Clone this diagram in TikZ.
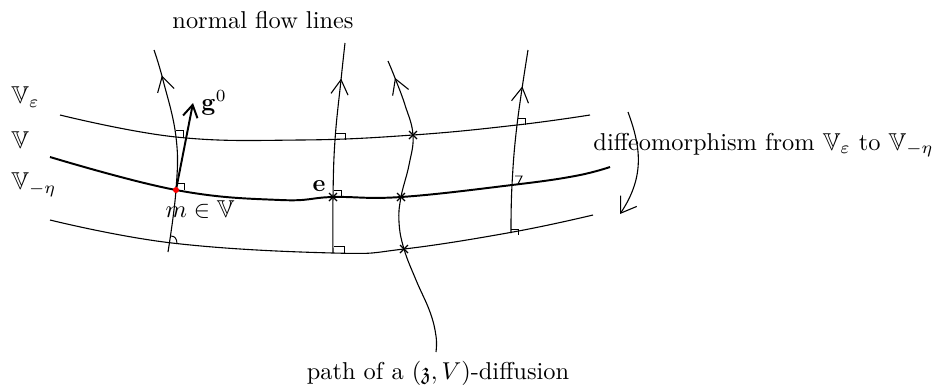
\documentclass[tikz,border=0pt]{standalone}
\usepackage{amsmath,amssymb}
\usetikzlibrary{arrows.meta,decorations.markings,calc}
\tikzset{
  thinline/.style={line width=0.45pt},
  leaf/.style={line width=0.8pt},
  flowarrow/.style={postaction={decorate},decoration={markings,
     mark=at position #1 with {\arrow{Straight Barb[length=6pt,width=7pt,line width=0.45pt]}}}},
  rmark/.style={line width=0.4pt},
  xmark/.style={line width=0.5pt},
  lbl/.style={inner sep=0pt}
}
\newcommand{\crossmark}[1]{\draw[xmark] ($(#1)+(-4,-4)$) -- ($(#1)+(4,4)$) ($(#1)+(-4,4)$) -- ($(#1)+(4,-4)$);}
\begin{document}
\begin{tikzpicture}[x=0.41pt,y=-0.41pt]
\useasboundingbox (0,0) rectangle (944,388);
% labels
\node[lbl] (title) at (263,20) {normal flow lines};
\node[lbl,anchor=west] (Veps) at (11,97) {$\mathbb{V}_\varepsilon$};
\node[lbl,anchor=west] (V) at (11,140) {$\mathbb{V}$};
\node[lbl,anchor=west] (Veta) at (11,185) {$\mathbb{V}_{-\eta}$};
\node[lbl,anchor=west] (g0) at (201,103) {$\mathbf{g}^0$};
\node[lbl] (mlab) at (200,210) {$m\in\mathbb{V}$};
\node[lbl] (elab) at (319,186) {$\mathbf{e}$};
\node[lbl,anchor=west] (diffeo) at (593,145) {diffeomorphism from $\mathbb{V}_\varepsilon$ to $\mathbb{V}_{-\eta}$};
\node[lbl] (pathlab) at (438,373) {path of a $(\mathfrak{z},V)$-diffusion};
% key points
\coordinate (m) at (176,190);
\coordinate (gtip) at (193,103);
\coordinate (e) at (333,197);
\coordinate (d1) at (413,135);
\coordinate (d2) at (401,197);
\coordinate (d3) at (404,249);
% level curves
\draw[thinline] plot[smooth,tension=0.7] coordinates {(60,115) (176,137) (300,140) (413,135) (517,125) (590,115)};
\draw[leaf] plot[smooth,tension=0.7] coordinates {(50,157) (176,190) (280,200) (333,197) (401,197) (512,185) (575,176) (610,167)};
\draw[thinline] plot[smooth,tension=0.7] coordinates {(50,220) (172,243) (333,253) (404,249) (513,232) (593,215)};
% normal flow lines
\draw[thinline,flowarrow=0.87] plot[smooth,tension=0.7] coordinates {(168,252) (176,190) (176,137) (163,80) (154,50)};
\draw[thinline,flowarrow=0.83] plot[smooth,tension=0.7] coordinates {(333,253) (333,197) (335,140) (341,80) (345,43)};
\draw[thinline,flowarrow=0.8] plot[smooth,tension=0.7] coordinates {(511,233) (512,185) (517,125) (528,50)};
% diffusion path
\draw[thinline,flowarrow=0.94] plot[smooth,tension=0.7] coordinates {(436,352) (436,336) (430,312) (416,280) (404,249) (399,222) (401,197) (409,165) (413,135) (405,105) (395,78) (388,61)};
% g0 arrow
\draw[leaf,-{Straight Barb[length=5pt,width=6pt]}] (m) -- (gtip);
% right-angle marks
\draw[rmark] (176,130) -- (183,130) -- (183,137);
\draw[rmark] (177,183) -- (184,183) -- (184,190);
\draw[rmark] (171,236) .. controls (175,236) and (177,239) .. (177,244);
\draw[rmark] (336,133) -- (345,133) -- (345,140);
\draw[rmark] (334,190) -- (341,190) -- (341,197);
\draw[rmark] (334,246) -- (344,246) -- (344,253);
\draw[rmark] (518,118) -- (525,118) -- (525,125);
\draw[rmark] (515,176) -- (522,176) -- (518,184);
\draw[rmark] (511,229) -- (518,229) -- (518,235);
% cross marks
\crossmark{e}
\crossmark{d1}
\crossmark{d2}
\crossmark{d3}
% red point
\fill[red] (m) circle[radius=3];
% diffeomorphism arrow
\coordinate (a1) at (628,112);
\coordinate (a2) at (620,214);
\draw[thinline,-{Straight Barb[length=6pt,width=8pt]}] (a1) .. controls (640,145) and (646,175) .. (a2);
\end{tikzpicture}
\end{document}
